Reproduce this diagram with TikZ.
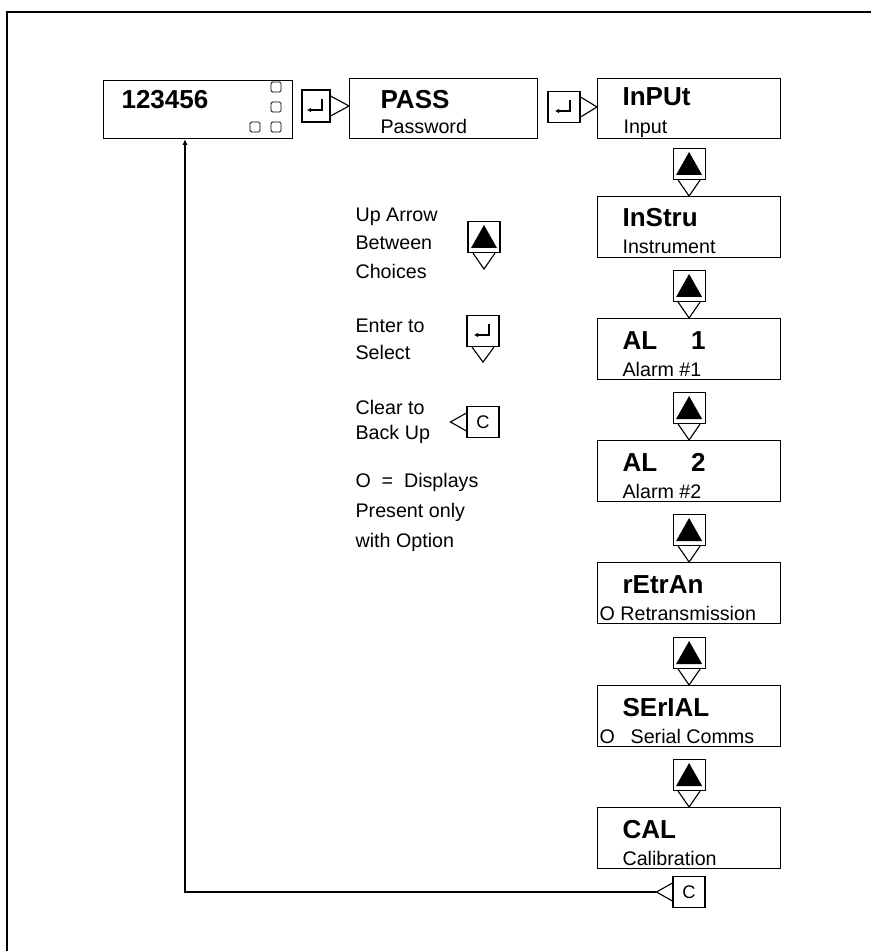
\documentclass[tikz,border=0pt]{standalone}
\usepackage{fontspec}
\setmainfont{Liberation Sans}
\usetikzlibrary{calc, arrows.meta}

\begin{document}
\begin{tikzpicture}[x=0.025cm, y=-0.025cm, line width=0.8pt,
    menubox/.style={draw, rectangle, inner sep=0pt, anchor=north west, minimum width=4.575cm, minimum height=1.525cm},
    title/.style={anchor=base west, inner sep=0pt, font=\bfseries\fontsize{18.5}{22}\selectfont},
    sub/.style={anchor=base west, inner sep=0pt, font=\fontsize{14}{17}\selectfont},
    legend/.style={anchor=base west, inner sep=0pt, font=\fontsize{14}{17}\selectfont},
    key/.style={draw, rectangle, inner sep=0pt, minimum width=0.8cm, minimum height=0.775cm},
    enterkey/.style={key, path picture={
        \draw[line width=0.9pt, -{Latex[length=3pt,width=3.5pt]}]
          ($(path picture bounding box.center)+(6,-7)$) -- ++(0,11) -- ++(-15,0);}},
    upkey/.style={key, path picture={
        \fill ($(path picture bounding box.center)+(-13,11)$) -- ($(path picture bounding box.center)+(13,11)$)
          -- ($(path picture bounding box.center)+(0,-12)$) -- cycle;}},
    clearkey/.style={key, font=\fontsize{13}{15}\selectfont},
    lamp/.style={draw, rectangle, rounded corners=1pt, inner sep=0pt, minimum size=0.25cm, line width=0.6pt}]

    \useasboundingbox (0,0) rectangle (871,951);
    \draw (7,951) -- (7,12) -- (871,12);

    % top row
    \node[menubox, minimum width=4.725cm, minimum height=1.45cm] (disp) at (103,80) {};
    \node[title] (dispval) at ($(disp.north west)+(18,29)$) {123456};
    \node[lamp] (lamp1) at (276,87) {};
    \node[lamp] (lamp2) at (276,107) {};
    \node[lamp] (lamp3) at (255,127) {};
    \node[lamp] (lamp4) at (276,127) {};

    \node[enterkey, minimum width=0.7cm, minimum height=0.8cm] (ent1) at (316,106) {};
    \node[menubox, minimum width=4.7cm, minimum height=1.5cm] (pass) at (349,78) {};
    \node[title] (passt) at ($(pass.north west)+(31,31)$) {PASS};
    \node[sub] (passs) at ($(pass.north west)+(31,56)$) {Password};

    \node[enterkey] (ent2) at (564,107) {};
    \node[menubox, minimum height=1.5cm] (inp) at (597,78) {};
    \node[title] (inpt) at ($(inp.north west)+(25,28)$) {InPUt};
    \node[sub] (inps) at ($(inp.north west)+(26,56)$) {Input};

    \draw ($(ent1.east)+(0,-10)$) -- (ent1.east -| pass.west) -- ($(ent1.east)+(0,10)$);
    \draw ($(ent2.east)+(0,-10)$) -- (ent2.east -| inp.west) -- ($(ent2.east)+(0,10)$);

    % menu column
    \node[menubox] (ins) at (597,196) {};
    \node[title] (inst) at ($(ins.north west)+(25,31)$) {InStru};
    \node[sub] (inss) at ($(ins.north west)+(25,58)$) {Instrument};

    \node[menubox] (al1) at (597,318) {};
    \node[title] (al1t) at ($(al1.north west)+(25,31)$) {AL\hspace{1.3em}1};
    \node[sub] (al1s) at ($(al1.north west)+(25,58)$) {Alarm \#1};

    \node[menubox] (al2) at (597,440) {};
    \node[title] (al2t) at ($(al2.north west)+(25,31)$) {AL\hspace{1.3em}2};
    \node[sub] (al2s) at ($(al2.north west)+(25,58)$) {Alarm \#2};

    \node[menubox] (retr) at (597,562) {};
    \node[title] (retrt) at ($(retr.north west)+(25,31)$) {rEtrAn};
    \node[sub] (retrs) at ($(retr.north west)+(2,58)$) {O Retransmission};

    \node[menubox] (ser) at (597,685) {};
    \node[title] (sert) at ($(ser.north west)+(25,31)$) {SErIAL};
    \node[sub] (sers) at ($(ser.north west)+(2,58)$) {O\hspace{0.8em}Serial Comms};

    \node[menubox] (cal) at (597,807) {};
    \node[title] (calt) at ($(cal.north west)+(25,31)$) {CAL};
    \node[sub] (cals) at ($(cal.north west)+(25,58)$) {Calibration};

    \foreach \a/\b in {inp/ins, ins/al1, al1/al2, al2/retr, retr/ser, ser/cal}{
        \node[upkey] (up\a) at ($(\b.north)+(0,-32)$) {};
        \draw ($(up\a.south)+(-11,0)$) -- (\b.north) -- ($(up\a.south)+(11,0)$);
    }

    % clear back to the display
    \node[clearkey] (clr) at (689,892) {C};
    \coordinate (clrtip) at ($(clr.west)+(-16,0)$);
    \draw ($(clr.west)+(0,-9)$) -- (clrtip) -- ($(clr.west)+(0,9)$);
    \coordinate (back) at ($(disp.south west)+(82,0)$);
    \draw[-{Latex[length=4pt,width=3.5pt]}] (clrtip) -| (back);

    % legend
    \node[legend] (lg1) at (355,222) {Up Arrow};
    \node[legend] (lg2) at (355,250) {Between};
    \node[legend] (lg3) at (355,279) {Choices};
    \node[upkey] (lgup) at (484,237) {};
    \draw ($(lgup.south)+(-11,0)$) -- ($(lgup.south)+(0,16)$) -- ($(lgup.south)+(11,0)$);

    \node[legend] (lg4) at (355,332) {Enter to};
    \node[legend] (lg5) at (355,359) {Select};
    \node[enterkey] (lgent) at (483,331) {};
    \draw ($(lgent.south)+(-11,0)$) -- ($(lgent.south)+(0,15)$) -- ($(lgent.south)+(11,0)$);

    \node[legend] (lg6) at (355,414) {Clear to};
    \node[legend] (lg7) at (355,439) {Back Up};
    \node[clearkey] (lgclr) at (483,422) {C};
    \draw ($(lgclr.west)+(0,-9)$) -- ($(lgclr.west)+(-16,0)$) -- ($(lgclr.west)+(0,9)$);

    \node[legend] (lg8) at (355,487) {O\hspace{0.55em}=\hspace{0.55em}Displays};
    \node[legend] (lg9) at (355,517) {Present only};
    \node[legend] (lg10) at (355,547) {with Option};
\end{tikzpicture}
\end{document}
